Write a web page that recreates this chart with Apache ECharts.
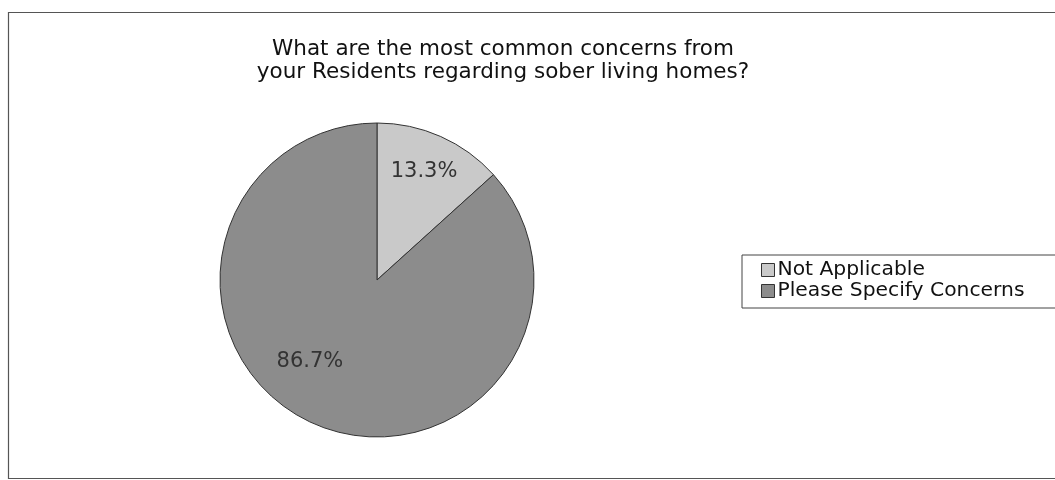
<!DOCTYPE html>
<html><head><meta charset="utf-8">
<script src="https://cdn.jsdelivr.net/npm/echarts@6/dist/echarts.min.js"></script>
<style>html,body{margin:0;padding:0;background:#fff}#c{width:1055px;height:480px}</style>
</head><body><div id="c"></div>
<script>
const titleText = 'What are the most common concerns from\nyour Residents regarding sober living homes?';
const categories = ['Not Applicable', 'Please Specify Concerns'];
const values = [13.3, 86.7];
const sliceColors = ['#c9c9c9', '#8c8c8c'];
const labelShift = [[14, -34], [-34, 7]];

const chart = echarts.init(document.getElementById('c'), null, {renderer: 'canvas'});
chart.setOption({
  backgroundColor: '#fff',
  animation: false,
  graphic: [{
    type: 'rect', silent: true,
    shape: {x: 8.5, y: 12.5, width: 1060, height: 466},
    style: {fill: 'none', stroke: '#555', lineWidth: 1.2}
  }],
  title: {
    text: titleText, left: 498, top: 33, textAlign: 'center',
    textStyle: {fontFamily: 'DejaVu Sans', fontSize: 21.5, fontWeight: 'normal', color: '#111', lineHeight: 23}
  },
  legend: {
    orient: 'vertical', left: 742, top: 255,
    data: categories,
    icon: 'rect', itemWidth: 13, itemHeight: 13, itemGap: 1,
    padding: [5, 40, 7, 19],
    borderColor: '#444', borderWidth: 1,
    textStyle: {fontFamily: 'DejaVu Sans', fontSize: 20.3, color: '#111', lineHeight: 20, padding: [0, 0, 0, -2]},
    itemStyle: {borderColor: '#333', borderWidth: 1}
  },
  series: [{
    type: 'pie',
    center: [377, 280], radius: [0, 157],
    startAngle: 90, clockwise: true,
    data: categories.map((n, i) => ({name: n, value: values[i], itemStyle: {color: sliceColors[i]}})),
    itemStyle: {borderColor: '#333', borderWidth: 1},
    label: {
      show: true, position: 'inside',
      formatter: p => p.value.toFixed(1) + '%',
      fontFamily: 'DejaVu Sans', fontSize: 21, color: '#333'
    },
    labelLine: {show: false},
    labelLayout: p => ({dx: labelShift[p.dataIndex][0], dy: labelShift[p.dataIndex][1]}),
    emphasis: {disabled: true}
  }]
});
</script></body></html>
